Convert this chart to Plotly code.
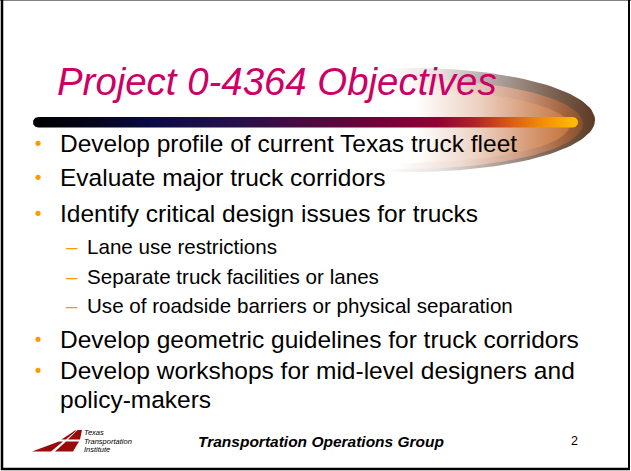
import numpy as np
import plotly.graph_objects as go

# ---------------- content ----------------
TITLE = "Project 0-4364 Objectives"
BULLETS = [
    "Develop profile of current Texas truck fleet",
    "Evaluate major truck corridors",
    "Identify critical design issues for trucks",
    "Develop geometric guidelines for truck corridors",
    "Develop workshops for mid-level designers and",
]
BULLET_BASELINES = [152, 186, 222, 348, 379]
CONTINUATION = "policy-makers"
CONTINUATION_BASELINE = 408
SUBS = [
    "Lane use restrictions",
    "Separate truck facilities or lanes",
    "Use of roadside barriers or physical separation",
]
SUB_BASELINES = [254, 284, 313]
FOOTER = "Transportation Operations Group"
PAGE_NO = "2"
TTI_LINES = ["Texas", "Transportation", "Institute"]
TTI_CENTERS = [432.5, 441, 449.5]

W, H = 631, 471
FONT = "Liberation Sans, Arial, sans-serif"
TITLE_COLOR = "#CC0066"
BULLET_COLOR = "#FF9900"
LOGO_RED = "#9B0A0A"

fig = go.Figure()


def ellipse(cx, cy, rx, ry, n=160):
    t = np.linspace(0, 2 * np.pi, n)
    return cx + rx * np.cos(t), cy + ry * np.sin(t)


def grad_poly(x, y, colorscale, start, stop):
    fig.add_trace(go.Scatter(
        x=x, y=y, mode="lines", fill="toself", line=dict(width=0),
        fillgradient=dict(type="horizontal", colorscale=colorscale,
                          start=start, stop=stop),
        hoverinfo="skip", showlegend=False))


# ---------------- fireball behind the title ----------------
ex, ey = ellipse(410, 120, 185, 52)
grad_poly(ex, ey, [[0, "#FFFFFF"], [0.42, "#FFFFFF"], [0.58, "rgb(230,226,224)"],
                   [0.74, "rgb(172,160,154)"], [0.88, "rgb(125,100,85)"],
                   [1, "rgb(92,58,36)"]], 225, 595)
ex, ey = ellipse(405, 124, 178, 45)
grad_poly(ex, ey, [[0, "#FFFFFF"], [0.48, "#FFFFFF"], [0.66, "rgb(238,218,208)"],
                   [0.82, "rgb(208,160,135)"], [0.94, "rgb(165,102,65)"],
                   [1, "rgb(135,80,45)"]], 227, 583)
ex, ey = ellipse(399, 126, 170, 37)
grad_poly(ex, ey, [[0, "#FFFFFF"], [0.55, "#FFFFFF"], [0.74, "rgb(236,208,192)"],
                   [0.9, "rgb(212,148,108)"], [1, "rgb(196,116,60)"]], 229, 569)

# ---------------- gradient bar ----------------
bx0, bx1, by, br = 33, 578, 122.25, 5.25
a = np.linspace(np.pi / 2, 3 * np.pi / 2, 30)
left_x = bx0 + br + br * np.cos(a)
left_y = by - br * np.sin(a)
a2 = np.linspace(-np.pi / 2, np.pi / 2, 30)
right_x = bx1 - br + br * np.cos(a2)
right_y = by - br * np.sin(a2)
bar_x = np.concatenate([left_x, right_x, left_x[:1]])
bar_y = np.concatenate([left_y, right_y, left_y[:1]])
grad_poly(bar_x, bar_y, [[0, "#000000"], [0.12, "#05051F"], [0.22, "#0A0A45"],
                         [0.38, "#28104A"], [0.5, "#4A0A40"], [0.63, "#72003A"],
                         [0.74, "#900034"], [0.81, "#AE2428"], [0.87, "#D85515"],
                         [0.93, "#F08A08"], [1, "#FFC000"]], bx0, bx1)

# ---------------- TTI logo ----------------
logo_polys = [
    [(32, 451.5), (51, 451.5), (63, 441.5), (59, 441.5)],
    [(55, 451.5), (73, 451.5), (79, 441.5), (66, 441.5)],
    [(61.5, 439.5), (66, 439.5), (76.5, 430.5), (75, 430.5)],
    [(68, 439.5), (80, 439.5), (82, 430), (77.5, 430)],
]
for poly in logo_polys:
    px = [p[0] for p in poly] + [poly[0][0]]
    py = [p[1] for p in poly] + [poly[0][1]]
    fig.add_trace(go.Scatter(x=px, y=py, mode="lines", fill="toself",
                             fillcolor=LOGO_RED, line=dict(width=0),
                             hoverinfo="skip", showlegend=False))

annotations = []
shapes = []


def text(x, y, s, size, color="#000000", italic=False, bold=False,
         xanchor="left", pad=1):
    annotations.append(dict(
        x=x, y=y, xref="x", yref="y", text=s, showarrow=False,
        xanchor=xanchor, yanchor="middle", align="left", borderpad=pad,
        font=dict(family=FONT, size=size, color=color,
                  style="italic" if italic else "normal",
                  weight="bold" if bold else "normal")))


def mid(baseline, size):
    return baseline - 0.3465 * size


# title
TS = 38.4
text(55, mid(95, TS), TITLE, TS, TITLE_COLOR, italic=True)

# main bullets
BS = 24.5
for s, b in zip(BULLETS, BULLET_BASELINES):
    text(58, mid(b, BS), s, BS)
    shapes.append(dict(type="circle", xref="x", yref="y",
                       x0=38 - 2.6, x1=38 + 2.6, y0=b - 8.7 - 2.6, y1=b - 8.7 + 2.6,
                       fillcolor=BULLET_COLOR, line=dict(width=0)))
text(58, mid(CONTINUATION_BASELINE, BS), CONTINUATION, BS)

# sub bullets
SS = 20.6
for s, b in zip(SUBS, SUB_BASELINES):
    text(64, mid(b, SS), "\u2013", SS, BULLET_COLOR)
    text(85, mid(b, SS), s, SS)

# footer
text(196, mid(446.5, 15.5), FOOTER, 15.5, italic=True, bold=True)
text(574, 441, PAGE_NO, 12.5, xanchor="center")
for s, c in zip(TTI_LINES, TTI_CENTERS):
    text(83, c, s, 7.5, italic=True, pad=0)

# slide frame
shapes += [
    dict(type="line", x0=0, x1=W, y0=0.5, y1=0.5, line=dict(color="#808080", width=1)),
    dict(type="line", x0=2, x1=2, y0=0, y1=470, line=dict(color="#000000", width=2.5)),
    dict(type="line", x0=629, x1=629, y0=0, y1=470, line=dict(color="#000000", width=2)),
    dict(type="line", x0=1, x1=630, y0=469, y1=469, line=dict(color="#000000", width=2.5)),
]
for sh in shapes:
    sh.setdefault("layer", "above")

fig.update_layout(
    width=W, height=H,
    margin=dict(l=0, r=0, t=0, b=0, pad=0),
    paper_bgcolor="#FFFFFF", plot_bgcolor="#FFFFFF",
    xaxis=dict(range=[0, W], visible=False, fixedrange=True),
    yaxis=dict(range=[H, 0], visible=False, fixedrange=True),
    annotations=annotations, shapes=shapes,
    showlegend=False, hovermode=False,
)

fig.write_html("out.html", config={"displayModeBar": False, "staticPlot": True},
               post_script="document.body.style.margin='0';document.body.style.overflow='hidden';")
